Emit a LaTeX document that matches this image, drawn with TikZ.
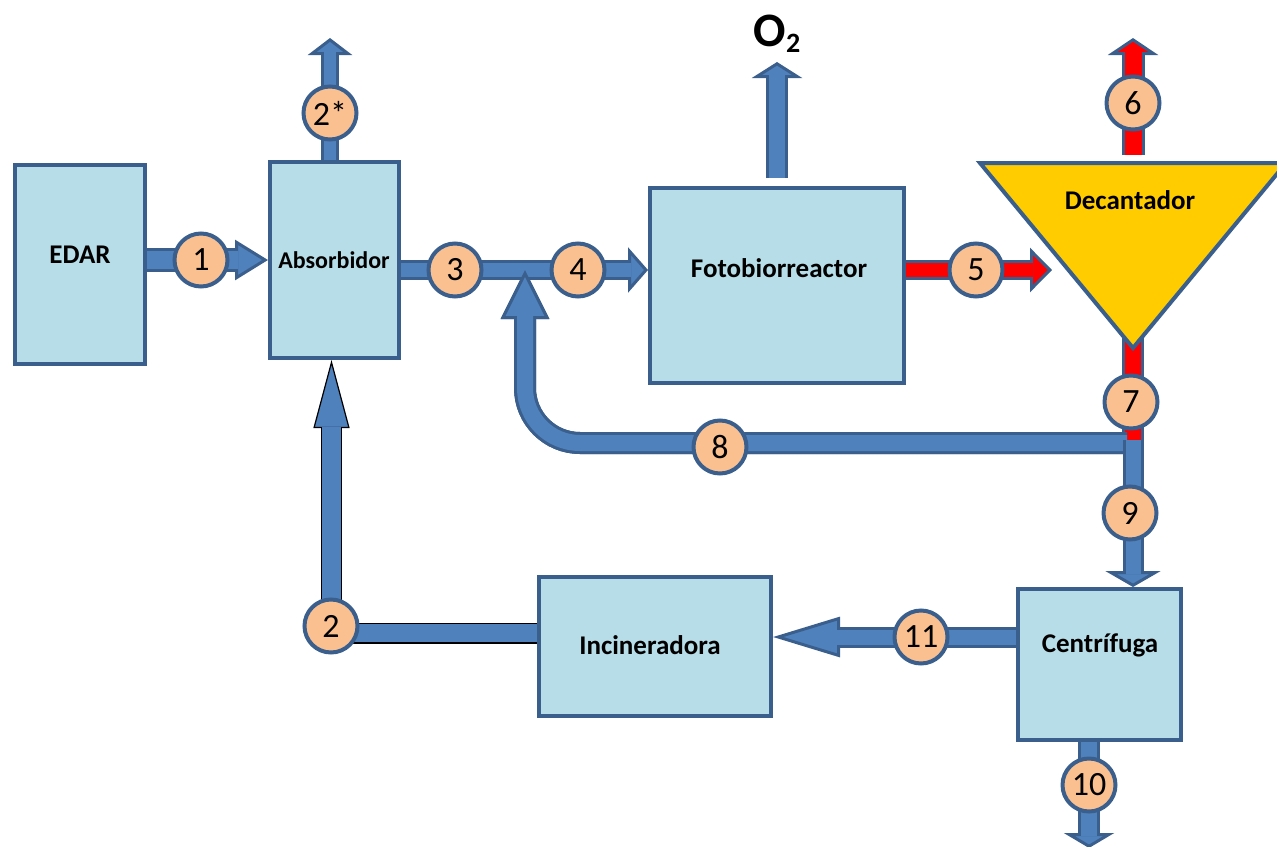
\documentclass[tikz,border=0pt]{standalone}
\usepackage{fontspec}
\setmainfont{Carlito}
\usetikzlibrary{arrows.meta,calc}
\definecolor{bc}{HTML}{3B5F8D}
\definecolor{af}{HTML}{4F81BD}
\definecolor{boxf}{HTML}{B7DDE8}
\definecolor{cf}{HTML}{FAC090}
\definecolor{trif}{HTML}{FFCC00}
\definecolor{rd}{HTML}{FF0000}
\begin{document}
\begin{tikzpicture}[x=1pt,y=-1pt,
 box/.style={draw=bc, fill=boxf, line width=4pt, inner sep=0pt},
 lbl/.style={font=\bfseries\fontsize{27}{31}\selectfont},
 num/.style={circle, draw=bc, fill=cf, line width=4pt, minimum size=53pt, inner sep=0pt, font=\fontsize{34}{38}\selectfont},
 flow/.style n args={4}{draw=bc, line width=#1, -{Triangle[length=#2,width=#3,fill=#4,color=bc,line width=3pt]}, postaction={draw=#4, line width=#1-6pt, -, shorten >=#2-3pt}},
 pipe/.style 2 args={draw=bc, line width=#1, postaction={draw=#2, line width=#1-6pt}},
 flowk/.style n args={3}{draw=black, line width=#1, -{Triangle[length=#2,width=#3,fill=af,color=black,line width=1.2pt]}, postaction={draw=af, line width=#1-2.4pt, -, shorten >=#2-1.5pt}},
]
\useasboundingbox (0,0) rectangle (1277,846);
\clip (0,0) rectangle (1277,846);

% boxes
\node[box, minimum width=130pt, minimum height=199pt] (edar) at (80,264.5) {};
\node[box, minimum width=129pt, minimum height=196pt] (abs) at (334.5,260) {};
\node[box, minimum width=254pt, minimum height=195pt] (foto) at (777,285.5) {};
\node[box, minimum width=163pt, minimum height=151pt] (cent) at (1099.5,664.5) {};
\node[box, minimum width=232pt, minimum height=139pt] (inc) at (655,646.5) {};

% coordinates
\coordinate (mix) at (525,270);
\coordinate (decin) at (1052,270);
\coordinate (out2s) at (330,38);
\coordinate (outO2) at (777,62);
\coordinate (out6) at (1133,38);
\coordinate (dectop) at (1133,155);
\coordinate (out10) at (1089,848);
\coordinate (apex) at (1133,348);
\coordinate (j8) at (1127,443);
\coordinate (j) at (1133,440);

% stream 8 (recirculation)
\draw[flow={22pt}{49pt}{48pt}{af}, rounded corners=55pt] (j8) -| (mix);
% stream 7
\draw[pipe={22pt}{rd}] ($(apex)+(0,-14)$) -- (j);
% decantador
\draw[draw=bc, fill=trif, line width=4pt, line join=miter] (980,163) -- (1286,163) -- (apex) -- cycle;

% streams
\draw[flow={24pt}{33pt}{40pt}{af}] (edar.east |- abs.west) -- (abs.west);
\draw[flow={18pt}{17pt}{44pt}{af}] (abs.north -| out2s) -- (out2s);
\draw[flow={20pt}{20pt}{45pt}{af}] (abs.east |- mix) -- (foto.west |- mix);
\draw[flow={22pt}{49pt}{48pt}{af}, rounded corners=55pt] (j8) -| (mix);
\draw[flow={20pt}{22pt}{44pt}{rd}] (foto.east |- decin) -- (decin);
\draw[flow={22pt}{16pt}{50pt}{af}] ($(foto.north)+(0,-8)$) -- (outO2);
\draw[flow={23pt}{17pt}{50pt}{rd}] (dectop) -- (out6);
\draw[flow={21pt}{16pt}{55pt}{af}] (j) -- (j |- cent.north);
\draw[flow={22pt}{15pt}{50pt}{af}] (out10 |- cent.south) -- (out10);
\coordinate (s11) at ($(cent.west)+(0,-27.5)$);
\draw[flow={21pt}{67pt}{40pt}{af}] (s11) -- (s11 -| inc.east);
\draw[flowk={21pt}{68pt}{36pt}] ($(inc.west)+(0,-13.5)$) -| ($(abs.south)+(-3,0)$);

% labels
\node[lbl] (tedar) at (80,255) {EDAR};
\node[lbl, font=\bfseries\fontsize{24}{28}\selectfont] (tabs) at (334,260) {Absorbidor};
\node[lbl] (tfoto) at (779,268) {Fotobiorreactor};
\node[lbl] (tdec) at (1130,200) {Decantador};
\node[lbl] (tinc) at (650,645) {Incineradora};
\node[lbl] (tcent) at (1100,645) {Centrífuga};
\node[font=\bfseries\fontsize{48}{52}\selectfont] (o2) at (777,34) {O\raisebox{-0.12em}{\fontsize{28}{30}\selectfont 2}};

% numbered circles
\node[num] (n1) at (201,260) {1};
\node[num] (n2s) at (330,113) {2*};
\node[num] (n2) at (331,626) {2};
\node[num] (n3) at (455,270) {3};
\node[num] (n4) at (578,270) {4};
\node[num] (n5) at (976,270) {5};
\node[num] (n6) at (1133,103) {6};
\node[num] (n7) at (1131,402) {7};
\node[num] (n8) at (720,447) {8};
\node[num] (n9) at (1130,513) {9};
\node[num] (n10) at (1089,785) {10};
\node[num] (n11) at (921,637) {11};
\end{tikzpicture}
\end{document}
